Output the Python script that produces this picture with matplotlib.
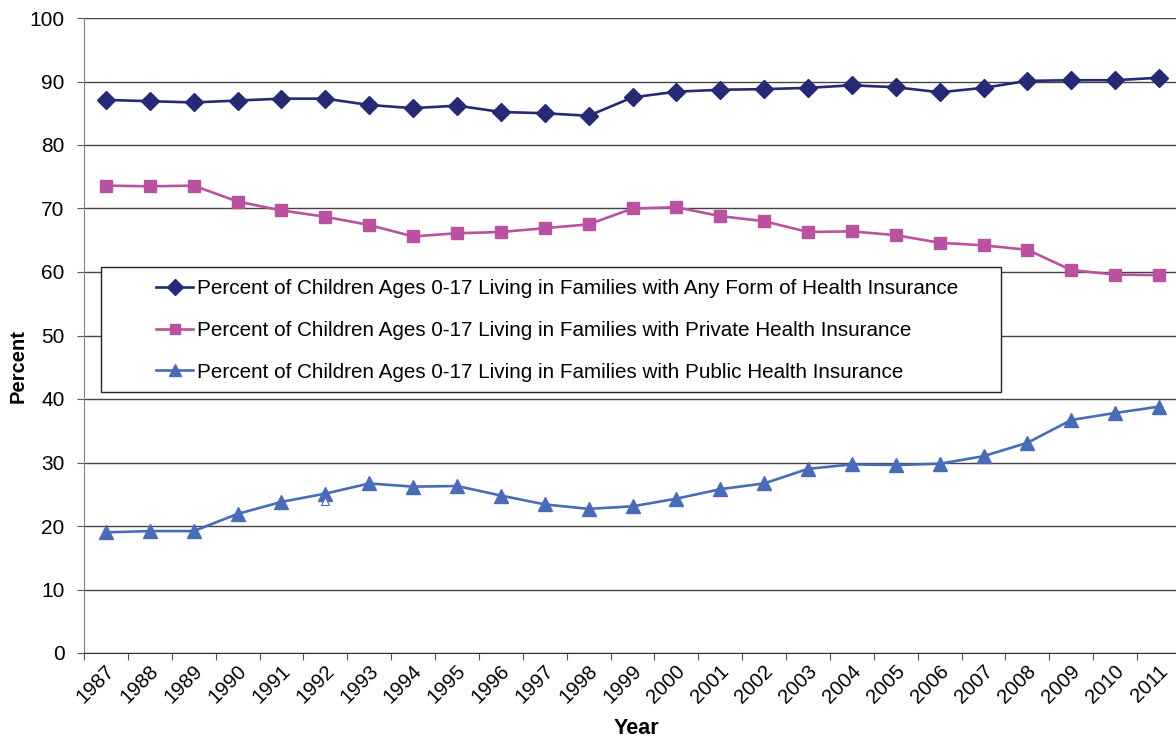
import matplotlib
matplotlib.use('Agg')
import matplotlib.pyplot as plt
from matplotlib.patches import Rectangle
from matplotlib.transforms import ScaledTranslation

plt.rcParams['font.family'] = ['Liberation Sans', 'DejaVu Sans']

years = [str(y) for y in range(1987, 2012)]

any_ins = [87.1, 86.9, 86.7, 87.0, 87.3, 87.3, 86.3, 85.8, 86.2, 85.2, 85.0, 84.6, 87.5,
           88.4, 88.7, 88.8, 89.0, 89.4, 89.1, 88.3, 89.0, 90.1, 90.2, 90.2, 90.6]
private_ins = [73.6, 73.5, 73.6, 71.1, 69.7, 68.7, 67.4, 65.6, 66.1, 66.3, 66.9, 67.5, 70.0,
               70.2, 68.8, 68.0, 66.3, 66.4, 65.8, 64.6, 64.2, 63.5, 60.3, 59.6, 59.5]
public_ins = [19.0, 19.2, 19.2, 21.9, 23.8, 25.1, 26.7, 26.2, 26.3, 24.8, 23.4, 22.7, 23.1,
              24.3, 25.8, 26.7, 29.0, 29.7, 29.6, 29.8, 31.0, 33.1, 36.7, 37.8, 38.8]
# stray hollow marker drawn under 1992 in the original
extra_year = '1992'
extra_val = 24.0

labels = ['Percent of Children Ages 0-17 Living in Families with Any Form of Health Insurance',
          'Percent of Children Ages 0-17 Living in Families with Private Health Insurance',
          'Percent of Children Ages 0-17 Living in Families with Public Health Insurance']

c_any = '#262A74'
c_priv = '#B9529F'
c_pub = '#4A6BB8'

W, H = 1176, 741
fig = plt.figure(figsize=(W / 100, H / 100), dpi=100)
ax = fig.add_axes([84 / W, (H - 653) / H, (1181 - 84) / W, (653 - 18) / H])

x = list(range(len(years)))
l1, = ax.plot(x, any_ins, color=c_any, lw=1.9, marker='D', ms=9.5, label=labels[0])
l2, = ax.plot(x, private_ins, color=c_priv, lw=1.9, marker='s', ms=8, label=labels[1])
l3, = ax.plot(x, public_ins, color=c_pub, lw=1.9, marker='^', ms=9.5, label=labels[2])
ax.plot([years.index(extra_year)], [extra_val], ls='none', marker='^', ms=6,
        mfc='white', mec=c_pub, mew=0.8)

ax.set_xlim(-0.5, len(years) - 0.5)
ax.set_ylim(0, 100)
ax.set_yticks(range(0, 101, 10))
ax.yaxis.grid(True, color='#444444', lw=1)
ax.set_axisbelow(True)

ax.set_xticks([i - 0.5 for i in range(len(years) + 1)])
ax.set_xticklabels([])
ax.set_xticks(x, minor=True)
ax.set_xticklabels(years, minor=True, rotation=45, ha='right', va='center',
                   rotation_mode='anchor', fontsize=14.6)
ax.tick_params(axis='x', which='minor', length=0, pad=11)
ax.tick_params(axis='x', which='major', length=5, color='#555555')
ax.tick_params(axis='y', length=5, color='#555555', labelsize=15, pad=9)
off = ScaledTranslation(6 / 100, 0, fig.dpi_scale_trans)
for lbl in ax.get_xticklabels(minor=True):
    lbl.set_transform(lbl.get_transform() + off)

for s in ['top', 'right']:
    ax.spines[s].set_visible(False)
ax.spines['left'].set_color('#808080')
ax.spines['bottom'].set_color('#333333')

fig.text(636 / W, 1 - 728 / H, 'Year', ha='center', va='center', fontsize=15.5, fontweight='bold')
fig.text(18 / W, 1 - 366 / H, 'Percent', ha='center', va='center', rotation=90,
         fontsize=14.5, fontweight='bold')

fig.patches.append(Rectangle((101 / W, 1 - 392 / H), 900 / W, 125 / H, transform=fig.transFigure,
                             fill=True, facecolor='white', edgecolor='#222222', lw=1, zorder=5))
leg = fig.legend(handles=[l1, l2, l3], loc='upper left', bbox_to_anchor=(156 / W, 1 - 279 / H),
                 frameon=False, fontsize=14.9, handlelength=1.8, handletextpad=0.2,
                 labelspacing=1.1, borderpad=0, borderaxespad=0, markerscale=0.9)
leg.set_zorder(6)

fig.savefig('out.png', dpi=100)
